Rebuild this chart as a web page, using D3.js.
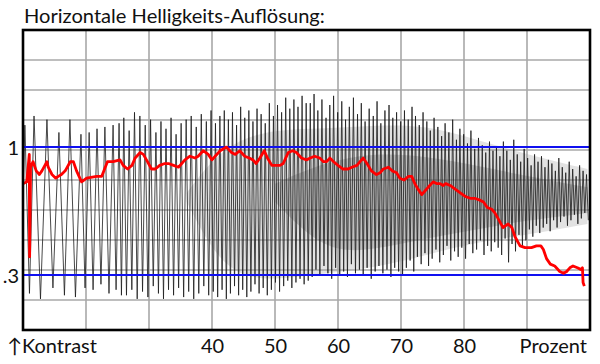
<!DOCTYPE html>
<html><head><meta charset="utf-8">
<script src="https://cdn.jsdelivr.net/npm/d3@7"></script>
<style>html,body{margin:0;padding:0;background:#fff;}svg{display:block;}</style>
</head><body>
<svg id="chart" width="600" height="364"></svg>
<script>
const titleText = "Horizontale Helligkeits-Auflösung:";
const xTickValues = [40, 50, 60, 70, 80];
const xLeftLabel = "↑Kontrast";
const xRightLabel = "Prozent";
const yTickValues = [1, 0.3];
const yTickLabels = ["1", ".3"];
const refLines = [1, 0.3];

// black sweep signal: peak positions (percent), peak and following trough contrast
const sweepStart = [10.0, 0.70];
const peakX = [
10.3, 11.75, 13.8, 15.7, 17.45, 19.2, 20.5, 21.75, 23.0, 24.3, 25.25,
26.0, 26.85, 27.7, 28.55, 29.4, 30.25, 31.1, 31.9, 32.7, 33.5, 34.3, 35.1, 35.9, 36.7, 37.5, 38.3, 39.1, 39.85,
40.55, 41.25, 41.95, 42.6, 43.25, 43.9, 44.55, 45.2, 45.85, 46.5, 47.15, 47.8, 48.45, 49.1, 49.75, 50.4, 51.05, 51.7, 52.35, 53.0, 53.65, 54.3, 54.95,
55.6, 56.2, 56.8, 57.45, 58.1, 58.7, 59.3, 59.95, 60.6, 61.2, 61.8, 62.45, 63.1, 63.7, 64.3, 64.95, 65.6, 66.2, 66.8, 67.45, 68.1, 68.7, 69.3, 69.95,
70.55, 71.15, 71.75, 72.3, 72.9, 73.5, 74.1, 74.65, 75.25, 75.85, 76.45, 77.0, 77.6, 78.2, 78.8, 79.35, 79.95, 80.55, 81.1, 81.7, 82.3, 82.9, 83.45, 84.05, 84.6,
85.15, 85.7, 86.25, 86.8, 87.35, 87.9, 88.45, 89.0, 89.55, 90.1, 90.65, 91.2, 91.75, 92.3, 92.85, 93.4, 93.95, 94.5, 95.05, 95.6, 96.15, 96.7, 97.25, 97.8, 98.35, 98.9, 99.45
];
const peakHi = [
1.12, 1.17, 1.15, 1.08, 1.15, 1.07, 1.08, 1.10, 1.11, 1.12, 1.13,
1.16, 1.09, 1.19, 1.17, 1.12, 1.15, 1.08, 1.14, 1.10, 1.16, 1.07, 1.13, 1.15, 1.17, 1.11, 1.18, 1.14, 1.20,
1.13, 1.17, 1.20, 1.15, 1.19, 1.12, 1.22, 1.16, 1.20, 1.14, 1.21, 1.18, 1.13, 1.24, 1.17, 1.23, 1.19, 1.27, 1.21, 1.26, 1.22, 1.28, 1.24,
1.24, 1.29, 1.20, 1.26, 1.16, 1.23, 1.28, 1.19, 1.25, 1.15, 1.22, 1.27, 1.18, 1.24, 1.14, 1.21, 1.17, 1.25, 1.13, 1.20, 1.23, 1.16, 1.19, 1.14,
1.20, 1.15, 1.22, 1.17, 1.12, 1.19, 1.14, 1.09, 1.16, 1.11, 1.06, 1.13, 1.08, 1.15, 1.04, 1.10, 1.07, 1.02, 1.09, 0.99, 1.05, 1.01, 0.97, 1.03, 0.98,
1.00, 0.95, 1.03, 0.98, 0.93, 1.04, 0.96, 0.92, 0.99, 0.94, 0.90, 0.96, 0.92, 0.95, 0.89, 0.93, 0.91, 0.87, 0.94, 0.89, 0.86, 0.92, 0.88, 0.84, 0.90, 0.87, 0.85
];
const troughLo = [
0.20, 0.17, 0.23, 0.19, 0.18, 0.23, 0.22, 0.25, 0.20, 0.22, 0.19,
0.19, 0.22, 0.17, 0.21, 0.18, 0.24, 0.20, 0.17, 0.22, 0.19, 0.23, 0.18, 0.21, 0.17, 0.20, 0.24, 0.19, 0.21,
0.18, 0.22, 0.17, 0.20, 0.24, 0.19, 0.22, 0.18, 0.21, 0.25, 0.20, 0.23, 0.19, 0.22, 0.26, 0.21, 0.24, 0.27, 0.23, 0.26, 0.28, 0.25, 0.27,
0.29, 0.33, 0.30, 0.35, 0.31, 0.28, 0.34, 0.30, 0.32, 0.29, 0.36, 0.31, 0.33, 0.30, 0.34, 0.28, 0.32, 0.35, 0.31, 0.33, 0.29, 0.34, 0.32, 0.30,
0.34, 0.38, 0.32, 0.40, 0.36, 0.42, 0.35, 0.39, 0.44, 0.37, 0.41, 0.46, 0.38, 0.43, 0.40, 0.45, 0.39, 0.47, 0.42, 0.44, 0.49, 0.41, 0.46, 0.43, 0.48,
0.45, 0.41, 0.50, 0.37, 0.47, 0.43, 0.52, 0.46, 0.49, 0.55, 0.51, 0.57, 0.53, 0.56, 0.58, 0.54, 0.60, 0.56, 0.59, 0.62, 0.57, 0.60, 0.63, 0.58, 0.61, 0.64, 0.60
];

// grey aliasing mass inside the sweep
const bandX = [36, 42, 50, 58, 66, 74, 82, 90, 99.6];
const bandHi = [0.75, 1.02, 1.10, 1.10, 1.12, 1.12, 1.04, 0.96, 0.88];
const bandLo = [0.70, 0.30, 0.27, 0.31, 0.34, 0.41, 0.48, 0.52, 0.58];
const coreX = [50, 58, 66, 74, 82, 90, 99.6];
const coreHi = [0.80, 0.92, 0.97, 0.95, 0.90, 0.84, 0.78];
const coreLo = [0.70, 0.42, 0.44, 0.50, 0.55, 0.60, 0.64];

// red measured curve
const redX = [10.0,10.6,11.0,11.05,11.2,11.6,12.1,12.6,13.0,13.8,14.0,14.6,15.2,15.6,16.1,16.7,17.5,18.0,18.5,19.3,20.1,21.7,22.5,23.4,24.3,25.4,
25.9,26.6,27.3,27.8,28.6,29.1,29.6,30.4,31.0,31.7,32.5,33.1,33.9,34.7,35.2,35.7,36.5,37.3,37.8,38.6,39.4,40.0,40.5,41.3,42.3,43.1,43.7,44.4,45.2,45.9,46.5,47.0,47.6,48.3,48.8,49.5,50.0,50.8,51.3,52.1,52.8,53.4,54.2,55.0,55.6,56.3,57.1,57.7,58.2,58.7,59.3,60.0,60.8,61.6,62.2,63.0,63.5,64.0,64.6,65.3,66.1,66.7,67.2,68.0,68.6,69.3,69.8,70.5,71.2,71.7,72.2,72.7,73.3,73.8,74.3,75.1,75.7,76.2,76.7,77.1,77.8,78.6,79.4,80.2,81.0,81.7,82.5,83.1,83.7,84.4,84.9,85.4,86.2,87.0,87.6,88.1,88.9,89.7,90.7,91.5,92.2,92.6,93.1,93.7,94.4,95.2,95.8,96.3,96.8,97.3,98.0,98.6,98.8,98.9,99.1];
const redY = [0.80,0.81,0.96,0.40,0.89,0.92,0.87,0.85,0.87,0.92,0.89,0.85,0.83,0.84,0.85,0.87,0.92,0.92,0.87,0.81,0.83,0.84,0.84,0.92,0.92,0.93,
0.90,0.88,0.90,0.94,0.97,0.96,0.93,0.88,0.88,0.90,0.91,0.91,0.90,0.89,0.91,0.93,0.95,0.94,0.95,0.98,0.96,0.93,0.95,0.98,1.00,0.97,0.96,0.98,0.95,0.94,0.93,0.91,0.94,0.98,0.94,0.90,0.90,0.90,0.91,0.97,0.98,0.97,0.94,0.93,0.94,0.95,0.94,0.92,0.92,0.94,0.92,0.90,0.88,0.88,0.89,0.90,0.92,0.94,0.91,0.87,0.85,0.86,0.88,0.89,0.87,0.86,0.83,0.82,0.84,0.84,0.80,0.77,0.74,0.76,0.78,0.81,0.80,0.80,0.79,0.80,0.79,0.77,0.75,0.73,0.72,0.72,0.71,0.70,0.67,0.66,0.64,0.61,0.56,0.58,0.56,0.51,0.46,0.45,0.45,0.46,0.46,0.44,0.39,0.36,0.35,0.32,0.31,0.32,0.34,0.35,0.34,0.33,0.34,0.26,0.24];

const W = 600, H = 364;
const plot = {left: 23, right: 590, top: 30, bottom: 330};
const svg = d3.select("#chart");
const FONT = "Lato, 'Open Sans', 'DejaVu Sans', sans-serif";

const x = d3.scaleLinear().domain([10, 100]).range([plot.left, plot.right]);
const y = d3.scaleLinear().domain([0, 1.64]).range([plot.bottom, plot.top]);

svg.append("rect").attr("width", W).attr("height", H).attr("fill", "#fff");

// grid
const gridX = d3.range(20, 100, 10);
const gridY = d3.range(1, 10).map(i => i * 1.64 / 10);
const grid = svg.append("g");
grid.selectAll("line.v").data(gridX).join("line")
  .attr("x1", d => x(d)).attr("x2", d => x(d))
  .attr("y1", plot.top).attr("y2", plot.bottom)
  .attr("stroke", "#a8a8a8").attr("stroke-width", 1.6);
grid.selectAll("line.h").data(gridY).join("line")
  .attr("x1", plot.left).attr("x2", plot.right)
  .attr("y1", d => y(d)).attr("y2", d => y(d))
  .attr("stroke", "#a8a8a8").attr("stroke-width", 1.6);

// grey aliasing mass
const band = d3.area().x(d => x(d[0])).y0(d => y(d[2])).y1(d => y(d[1])).curve(d3.curveBasis);
svg.append("path").datum(bandX.map((v, i) => [v, bandHi[i], bandLo[i]]))
  .attr("d", band).attr("fill", "#a0a0a0").attr("opacity", 0.3);
svg.append("path").datum(coreX.map((v, i) => [v, coreHi[i], coreLo[i]]))
  .attr("d", band).attr("fill", "#707070").attr("opacity", 0.3);

// black sweep
const sweepPts = [sweepStart];
peakX.forEach((px, i) => {
  sweepPts.push([px, peakHi[i]]);
  const nx = i < peakX.length - 1 ? (px + peakX[i + 1]) / 2 : Math.min(100, px + 0.28);
  sweepPts.push([nx, troughLo[i]]);
});
svg.append("path").datum(sweepPts)
  .attr("d", d3.line().x(d => x(d[0])).y(d => y(d[1])))
  .attr("fill", "none").attr("stroke", "#1a1a1a").attr("stroke-width", 0.8);

// blue reference lines
svg.selectAll("line.ref").data(refLines).join("line")
  .attr("x1", plot.left).attr("x2", plot.right)
  .attr("y1", d => y(d)).attr("y2", d => y(d))
  .attr("stroke", "#1010f0").attr("stroke-width", 2);

// red curve
svg.append("path").datum(redX.map((v, i) => [v, redY[i]]))
  .attr("d", d3.line().x(d => x(d[0])).y(d => y(d[1])))
  .attr("fill", "none").attr("stroke", "#ff0000").attr("stroke-width", 2.8)
  .attr("stroke-linejoin", "round");

// frame
svg.append("rect").attr("x", plot.left).attr("y", plot.top)
  .attr("width", plot.right - plot.left).attr("height", plot.bottom - plot.top)
  .attr("fill", "none").attr("stroke", "#000").attr("stroke-width", 2.6);

// axes
const xAxis = d3.axisBottom(x).tickValues(xTickValues).tickSize(0).tickPadding(0).tickFormat(d3.format("d"));
const gx = svg.append("g").attr("transform", `translate(0,${plot.bottom})`).call(xAxis);
gx.select(".domain").remove();
gx.selectAll("text").attr("dy", null).attr("y", 23).attr("font-family", FONT).attr("font-size", 20).attr("fill", "#111");

const yAxis = d3.axisLeft(y).tickValues(yTickValues).tickSize(0).tickPadding(0).tickFormat((d, i) => yTickLabels[i]);
const gy = svg.append("g").attr("transform", `translate(19,0)`).call(yAxis);
gy.select(".domain").remove();
gy.selectAll("text").attr("x", 0).attr("dy", "0.36em").attr("font-family", FONT).attr("font-size", 20).attr("fill", "#111");

svg.append("text").attr("x", 7).attr("y", 353).text(xLeftLabel)
  .attr("font-family", FONT).attr("font-size", 20).attr("fill", "#111");
svg.append("text").attr("x", 587).attr("y", 353).attr("text-anchor", "end").text(xRightLabel)
  .attr("font-family", FONT).attr("font-size", 20).attr("fill", "#111");

// title
const t = svg.append("text").attr("x", 24).attr("y", 23).text(titleText)
  .attr("font-family", FONT).attr("font-size", 20).attr("fill", "#111");
const tw = t.node().getComputedTextLength();
t.attr("font-size", 20 * 301 / tw);
</script>
</body></html>
